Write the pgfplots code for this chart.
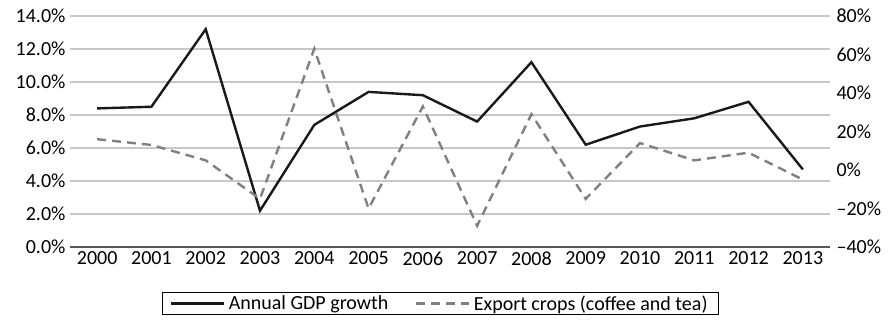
\documentclass[border=0pt]{standalone}
\usepackage{pgfplots}
\pgfplotsset{compat=1.18}
\usepackage{fontspec}
\setmainfont{Carlito}
\definecolor{gridgray}{RGB}{200,200,200}
\definecolor{dashgray}{RGB}{128,128,128}
\definecolor{axisgray}{RGB}{90,90,90}
\begin{document}
\begin{tikzpicture}
\pgfplotsset{
  every axis/.append style={
    scale only axis, width=760pt, height=231pt,
    xmin=-0.5, xmax=13.5,
    font=\fontsize{20}{24}\selectfont,
    major tick length=0pt,
  },
}
\begin{axis}[
  name=main,
  ymin=0, ymax=14,
  ytick={0,2,...,14},
  yticklabels={0.0\%,2.0\%,4.0\%,6.0\%,8.0\%,10.0\%,12.0\%,14.0\%},
  ymajorgrids, grid style={gridgray, line width=1.1pt},
  axis x line*=bottom, axis y line*=left,
  x axis line style={axisgray, line width=1.3pt, -},
  y axis line style={draw=none},
  xtick={0,...,13},
  xticklabels={2000,2001,2002,2003,2004,2005,2006,2007,2008,2009,2010,2011,2012,2013},
  yticklabel style={xshift=-1pt},
  xticklabel style={yshift=-1pt},
]
\addplot[black!90, line width=2.4pt, mark=none] coordinates {
(0,8.4) (1,8.5) (2,13.2) (3,2.2) (4,7.4) (5,9.4) (6,9.2)
(7,7.6) (8,11.2) (9,6.2) (10,7.3) (11,7.8) (12,8.8) (13,4.7)};
\end{axis}
\begin{axis}[
  ymin=-40, ymax=80,
  ytick={-40,-20,...,80},
  yticklabels={--40\%,--20\%,0\%,20\%,40\%,60\%,80\%},
  axis x line=none, axis y line*=right,
  y axis line style={draw=none},
  yticklabel style={xshift=3pt},
  legend style={at={(0.4875,-0.195)}, anchor=north, draw=black, line width=1pt,
    legend columns=2, inner xsep=7pt, inner ysep=1pt,
    nodes={inner xsep=4pt},
    /tikz/every even column/.append style={column sep=22pt},
    font=\fontsize{20}{24}\selectfont},
  legend cell align=left,
  legend image code/.code={\draw[#1] (0pt,0pt) -- (53pt,0pt);},
]
\addlegendimage{black!90, line width=2.4pt}
\addlegendentry{Annual GDP growth}
\addplot[dashgray, line width=2.4pt, dash pattern=on 9pt off 6pt, mark=none] coordinates {
(0,16) (1,13) (2,5) (3,-15) (4,63) (5,-20) (6,33)
(7,-29) (8,29) (9,-15) (10,14) (11,5) (12,9) (13,-5)};
\addlegendentry{Export crops (coffee and tea)}
\end{axis}
\path (main.south west) ++(-70pt,-74pt) coordinate (bbsw);
\path (main.north east) ++(64pt,16pt) coordinate (bbne);
\end{tikzpicture}
\end{document}
